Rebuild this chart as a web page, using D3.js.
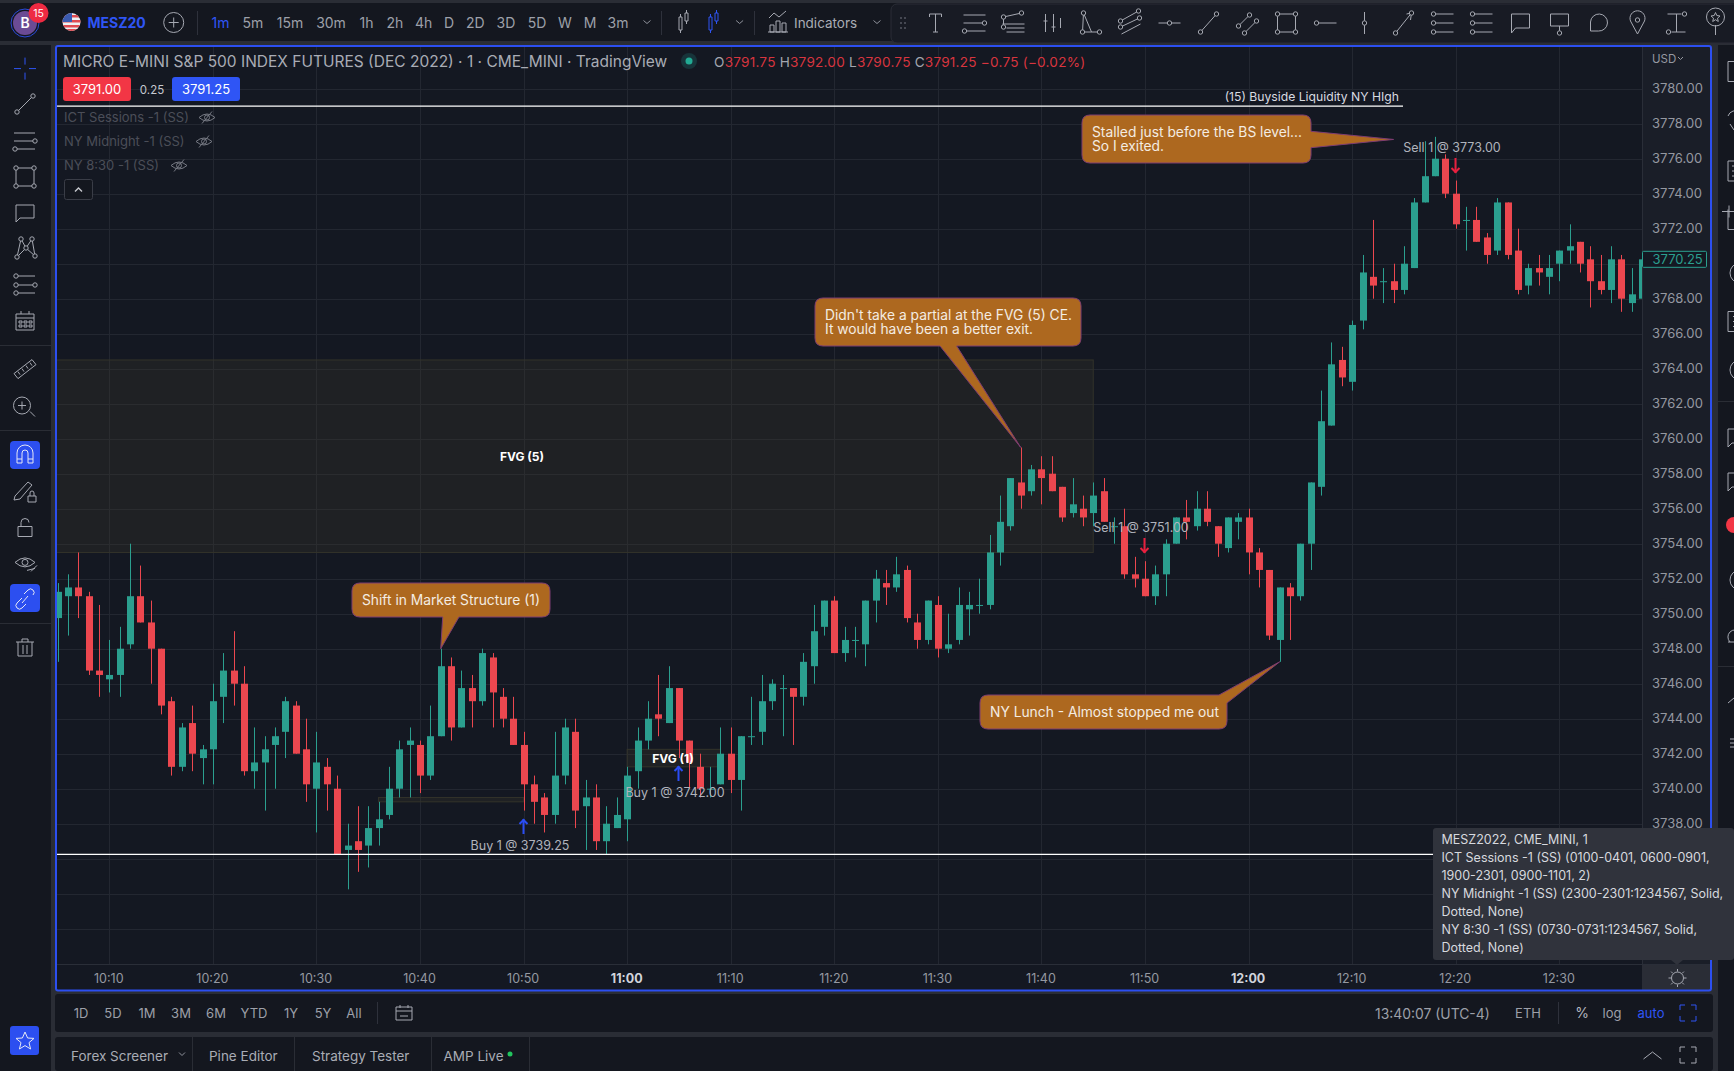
<!DOCTYPE html>
<html>
<head>
<meta charset="utf-8">
<title>MESZ2022 1m</title>
<script src="https://cdn.jsdelivr.net/npm/d3@7/dist/d3.min.js"></script>
<style>
  html, body { margin: 0; padding: 0; background: #2a2d35; overflow: hidden; }
  svg { display: block; font-family: Inter, "Noto Sans", sans-serif; }
  text { white-space: pre; }
</style>
</head>
<body>
<svg id="chart" width="1734" height="1071"></svg>
<script>
// candles start at 10:05, one per minute
var firstBar = "10:05";
var opens = [
  3749.75,3751,3751.5,3751,3746.75,3746.25,3746.5,3748.25,3751,3749.5,
  3748,3745,3741.25,3743.75,3741.75,3742.25,3745.25,3746.75,3746,3741,
  3741.5,3742.5,3743.25,3744.75,3742.25,3740,3741.25,3740,3736.5,3737,
  3736.75,3737.75,3738.5,3740,3742.5,3742.5,3740.75,3743,3747,3743.5,
  3745.75,3745,3747.5,3745.25,3744,3742.5,3740.25,3739.5,3738.5,3740.75,
  3743.25,3739,3739.5,3737,3737.75,3738.25,3741,3742.75,3744.25,3743.75,
  3745.75,3742.75,3741.25,3740,3740.25,3742,3740.5,3743,3743.25,3745,
  3745.75,3745.75,3745.25,3747,3749.25,3750.75,3747.75,3748.5,3748.25,3750.75,
  3751.75,3751.5,3752.5,3749.5,3748.5,3750.5,3748,3748.5,3750.25,3750.5,
  3750.5,3753.5,3755,3757.5,3757,3758.25,3758,3757.25,3755.75,3756,
  3755.75,3757,3755,3755,3752.25,3752,3751,3752.25,3754,3755.5,
  3755,3756,3755,3753.75,3755.25,3755.5,3753.5,3752.5,3748.5,3751.5,
  3751,3754,3757.25,3760.75,3764.5,3763.25,3766.75,3769.25,3769,3769,
  3768.5,3769.75,3773.5,3775,3776,3774,3772.5,3772.5,3771.5,3770.75,
  3773.5,3770.75,3768.75,3769.75,3769.25,3770,3770.75,3771.25,3770.25,3769,
  3768.5,3770.25,3767.75,3768
];
var highs = [
  3751.75,3752.25,3753.5,3751.25,3750.5,3748.5,3749.25,3754,3752.75,3750.75,
  3748,3745.25,3743.75,3744.75,3742.5,3746,3747.75,3749,3747,3743.5,
  3743,3743.5,3745.25,3745,3744,3743.25,3741.75,3740.75,3738,3739,
  3739,3739.25,3741.25,3742.75,3743.5,3742.75,3744.75,3748,3747.5,3746.75,
  3746.5,3748,3747.75,3745.75,3745.25,3743.25,3740.75,3739.75,3743.25,3744,
  3744,3740.5,3740.25,3739,3739.5,3741.25,3743.5,3745,3746.5,3747,
  3745.75,3742.75,3742,3741.25,3743.5,3743.5,3743,3745.25,3746.5,3746.25,
  3746.5,3745.75,3747.75,3750.5,3750.75,3751,3749.25,3749.25,3750.75,3752.5,
  3752.5,3753.25,3752.75,3750,3750.75,3751,3750,3751.5,3751.25,3752,
  3754.5,3756.75,3757.75,3759.5,3758.5,3759,3759,3757.25,3757.75,3756.75,
  3757.5,3757.75,3755.5,3756,3753.25,3753,3752.75,3754.25,3755.5,3756.5,
  3757,3757,3755,3755.5,3755.75,3756,3753.75,3752.5,3751.5,3751.75,
  3754,3757.5,3762.75,3765.5,3765.25,3766.75,3770.5,3772.5,3769.75,3770,
  3771,3773.75,3777,3777.25,3776.25,3774.75,3773.25,3773.25,3771.75,3773.75,
  3773.5,3772,3770,3770.5,3770.5,3770.75,3772.25,3771.25,3771,3770.5,
  3771,3770.5,3769.75,3770.25
];
var lows = [
  3747.25,3748.75,3749.75,3746.5,3745.25,3745.5,3745.25,3748,3749.5,3746,
  3744.25,3740.75,3741,3741,3740.25,3740.25,3743.75,3744.75,3740.75,3740,
  3738.75,3740,3741.75,3742,3739.25,3737.5,3738.75,3736.25,3734.25,3735.25,
  3735.5,3736.75,3738.25,3739.5,3739.5,3739.75,3740.5,3743,3742.75,3743.5,
  3743.5,3744.75,3743.5,3743.5,3742.5,3738.75,3738,3737.5,3738,3740.25,
  3737.75,3736.5,3736.5,3736.25,3737.75,3737,3740,3742.25,3743,3743.75,
  3741.75,3740,3739.5,3739.5,3740.25,3739.75,3738.75,3742.5,3742.5,3744.5,
  3743,3742.5,3744.75,3746,3748.75,3747.75,3747.25,3747.5,3747,3749.5,
  3750.5,3751.25,3749.5,3748,3748.25,3747.5,3747.75,3748.25,3748.75,3750,
  3750.25,3752.75,3754.75,3756,3756.75,3756.25,3757,3755.25,3755.5,3755,
  3755,3755.25,3754,3752,3751.5,3751,3750.5,3751,3754,3754.25,
  3754.75,3755,3753.25,3753.5,3754.25,3752.25,3751.5,3748.5,3747.25,3748.5,
  3750.75,3752.5,3756.75,3760.75,3763,3762.75,3766.25,3768,3767.75,3767.75,
  3768.25,3769.75,3773.5,3775,3773.75,3772,3770.75,3771.25,3770,3770.5,
  3770.25,3768.25,3768.25,3768.75,3768.25,3769,3770,3769.5,3767.5,3768.25,
  3767.75,3767.25,3767.25,3768
];
var closes = [
  3751.25,3751.5,3751,3746.75,3746.5,3746.5,3748,3751,3749.5,3748,
  3744.75,3741.25,3743.5,3742,3742.25,3745,3746.75,3746,3741,3741.5,
  3742.25,3743,3745,3742,3740.25,3741.5,3740.25,3736.25,3736.75,3736.5,
  3737.75,3738.25,3740,3742.25,3742.75,3740.75,3743,3747,3743.5,3745.75,
  3745,3747.75,3745.5,3744,3742.5,3740.25,3739.25,3738.5,3740.75,3743.5,
  3738.75,3739.5,3737,3738,3738.5,3740.75,3742.75,3744,3744,3745.75,
  3742.75,3741.5,3740,3740,3742,3740.5,3743,3743,3745,3746,
  3745.75,3745.25,3747.25,3749,3750.75,3747.75,3748.5,3748.5,3750.75,3752,
  3751.5,3752.25,3749.75,3748.5,3750.75,3748,3748.25,3750.5,3750.5,3750.5,
  3753.5,3755.25,3757.75,3756.75,3758.25,3757.75,3757,3755.5,3756.25,3755.5,
  3756.75,3755.25,3755,3752.25,3752,3751,3752.25,3754,3755.5,3755.25,
  3756,3755.25,3754,3755.5,3755.5,3753.5,3752.5,3748.75,3751.5,3751,
  3754,3757.5,3761,3764.25,3763.5,3766.5,3769.5,3768.75,3769,3768.5,
  3770,3773.5,3775,3776,3774,3772.25,3772.5,3771.25,3770.5,3773.5,
  3770.5,3768.5,3769.75,3769.5,3769.75,3770.75,3771,3770,3769,3768.5,
  3770.25,3768,3768.25,3770.25
];

var priceTicks = d3.range(3732, 3781, 2);
var timeTicks = d3.range(0, 15).map(function(i){ return 610 + i * 10; });
var boldTimes = ["11:00", "12:00"];

var lastPrice = 3770.25;
var buysideLevel = 3779;
var lowLevel = 3736.25;
var fvgBoxes = [
  {from: "10:00", to: "11:45", top: 3764.5, bottom: 3753.5},
  {from: "11:00", to: "11:09", top: 3742.25, bottom: 3741.25},
  {from: "10:36", to: "10:50", top: 3739.5, bottom: 3739.25}
];

var tradeLabels = ["Buy 1 @ 3739.25", "Buy 1 @ 3742.00", "Sell 1 @ 3751.00", "Sell 1 @ 3773.00"];
var tradeTimes = ["10:50", "11:05", "11:50", "12:20"];

var intervals = ["1m","5m","15m","30m","1h","2h","4h","D","2D","3D","5D","W","M","3m"];
var ranges = ["1D","5D","1M","3M","6M","YTD","1Y","5Y","All"];
var tabs = ["Forex Screener","Pine Editor","Strategy Tester","AMP Live"];
var hiddenStudies = ["ICT Sessions -1 (SS)","NY Midnight -1 (SS)","NY 8:30 -1 (SS)"];
var tooltipLines = [
  "MESZ2022, CME_MINI, 1",
  "ICT Sessions -1 (SS) (0100-0401, 0600-0901,",
  "1900-2301, 0900-1101, 2)",
  "NY Midnight -1 (SS) (2300-2301:1234567, Solid,",
  "Dotted, None)",
  "NY 8:30 -1 (SS) (0730-0731:1234567, Solid,",
  "Dotted, None)"
];

var UP = "#2b9f8f", DOWN = "#ec474f", BLUE = "#2c4ff0", PANE = "#141822", BAR = "#14171f";
var GRID = "#232731", AXISTEXT = "#9598a1", ICON = "#a6a9b2", NOTE = "#ad681f";

function hm(s){ var p = s.split(":"); return +p[0] * 60 + +p[1]; }
function fmtTime(m){ return Math.floor(m / 60) + ":" + d3.format("02")(m % 60); }

var candles = opens.map(function(o, i){
  return {t: hm(firstBar) + i, o: o, h: highs[i], l: lows[i], c: closes[i]};
});

var pane = {left: 57, right: 1642, top: 47, bottom: 964};
var x = d3.scaleLinear().domain([hm("10:10"), hm("12:30")]).range([109.3, 1559.3]);
var y = d3.scaleLinear().domain([3778, 3738]).range([123.7, 823.7]);

var svg = d3.select("#chart");

function rect(g, x0, y0, w, h, fill, rx){
  return g.append("rect").attr("x", x0).attr("y", y0).attr("width", w).attr("height", h)
    .attr("fill", fill).attr("rx", rx || 0);
}
function label(g, s, x0, y0, size, fill, anchor, weight){
  return g.append("text").attr("x", x0).attr("y", y0).attr("dy", "0.36em")
    .attr("font-size", size).attr("fill", fill)
    .attr("text-anchor", anchor || "start").attr("font-weight", weight || 400).text(s);
}

/***** panels *****/
var back = svg.append("g");
rect(back, 0, 0, 1734, 1071, "#2a2d35");
rect(back, 0, 3, 1734, 38, BAR);
rect(back, 0, 45, 51, 1026, BAR);
rect(back, 1718, 45, 16, 1026, BAR);
rect(back, 55, 994, 1658, 38, BAR, 3);
rect(back, 55, 1037, 1658, 34, BAR, 3);
[345, 430, 623].forEach(function(v){ rect(back, 0, v, 51, 1, "#2a2d35"); });
rect(back, 1718, 401, 16, 1, "#2a2d35");
rect(back, 1718, 666, 16, 1, "#2a2d35");

/***** chart pane *****/
rect(svg, pane.left, pane.top, pane.right - pane.left, pane.bottom - pane.top, PANE);
rect(svg, pane.right, pane.top, 1710 - pane.right, 990 - pane.top, "#1a1e28");
rect(svg, pane.left, pane.bottom, pane.right - pane.left, 26, PANE);
rect(svg, pane.right, pane.bottom, 1710 - pane.right, 26, "#2a2d36");

var defs = svg.append("defs");
defs.append("clipPath").attr("id", "paneClip").append("rect")
  .attr("x", pane.left).attr("y", pane.top)
  .attr("width", pane.right - pane.left).attr("height", pane.bottom - pane.top);

var plot = svg.append("g").attr("clip-path", "url(#paneClip)");

// grid
plot.append("g").selectAll("line").data(priceTicks).join("line")
  .attr("x1", pane.left).attr("x2", pane.right)
  .attr("y1", function(d){ return Math.round(y(d)) + 0.5; })
  .attr("y2", function(d){ return Math.round(y(d)) + 0.5; })
  .attr("stroke", GRID);
plot.append("g").selectAll("line").data(timeTicks).join("line")
  .attr("y1", pane.top).attr("y2", pane.bottom)
  .attr("x1", function(d){ return Math.round(x(d)) + 0.5; })
  .attr("x2", function(d){ return Math.round(x(d)) + 0.5; })
  .attr("stroke", GRID);

// fvg boxes
plot.append("g").selectAll("rect").data(fvgBoxes).join("rect")
  .attr("x", function(d){ return x(hm(d.from)); })
  .attr("y", function(d){ return y(d.top); })
  .attr("width", function(d){ return x(hm(d.to)) - x(hm(d.from)); })
  .attr("height", function(d){ return y(d.bottom) - y(d.top); })
  .attr("fill", "rgba(62,56,44,0.28)").attr("stroke", "#33332a");

// candles
var bar = plot.append("g").selectAll("g").data(candles).join("g")
  .attr("fill", function(d){ return d.c >= d.o ? UP : DOWN; });
bar.append("rect")
  .attr("x", function(d){ return Math.round(x(d.t)); })
  .attr("width", 1)
  .attr("y", function(d){ return y(d.h); })
  .attr("height", function(d){ return y(d.l) - y(d.h); });
bar.append("rect")
  .attr("x", function(d){ return Math.round(x(d.t)) - 3; })
  .attr("width", 7)
  .attr("y", function(d){ return y(Math.max(d.o, d.c)); })
  .attr("height", function(d){ return Math.max(1, Math.abs(y(d.o) - y(d.c))); });

// horizontal levels
plot.append("line").attr("x1", pane.left).attr("x2", 1403)
  .attr("y1", y(buysideLevel)).attr("y2", y(buysideLevel))
  .attr("stroke", "#fff").attr("stroke-width", 1.2);
plot.append("line").attr("x1", pane.left).attr("x2", pane.right)
  .attr("y1", y(lowLevel)).attr("y2", y(lowLevel))
  .attr("stroke", "#fff").attr("stroke-width", 1.2);
label(plot, "(15) Buyside Liquidity NY HIgh", 1399, 96.5, 12.2, "#d8dae0", "end");

// trades
tradeLabels.forEach(function(s, i){
  var buy = s.indexOf("Buy") === 0;
  var ax = Math.round(x(hm(tradeTimes[i]))) - 0.5;
  var ay = [819, 766, 538, 158][i];
  var col = buy ? "#2a4df5" : "#e8203f";
  var a = plot.append("g").attr("fill", "none").attr("stroke", col).attr("stroke-width", 2);
  a.append("path").attr("d", "M" + ax + " " + ay + "V" + (ay + 15));
  if (buy) a.append("path").attr("d", "M" + (ax - 4) + " " + (ay + 5) + "L" + ax + " " + (ay + 1) + "L" + (ax + 4) + " " + (ay + 5));
  else a.append("path").attr("d", "M" + (ax - 4) + " " + (ay + 10) + "L" + ax + " " + (ay + 14) + "L" + (ax + 4) + " " + (ay + 10));
  var lx = [520, 675, 1141, 1452][i], ly = [845, 792, 527, 147][i];
  label(plot, s, lx, ly, 12.5, "#b0b3bc", "middle");
});

// fvg names
label(plot, "FVG (5)", 522, 456.5, 12, "#fff", "middle", 700);
label(plot, "FVG (1)", 673, 759, 12, "#fff", "middle", 700);

// callouts
function bubble(o){
  var p = d3.path(), r = 8, t = o.tip;
  p.moveTo(o.x0 + r, o.y0);
  if (o.side === "top") { p.lineTo(o.a, o.y0); p.lineTo(t[0], t[1]); }
  if (o.side === "top" && o.skip) { p.lineTo(o.x1, o.c); }
  else {
    if (o.side === "top") p.lineTo(o.c, o.y0);
    p.lineTo(o.x1 - r, o.y0);
    p.quadraticCurveTo(o.x1, o.y0, o.x1, o.y0 + r);
  }
  if (o.side === "right") { p.lineTo(o.x1, o.a); p.lineTo(t[0], t[1]); p.lineTo(o.x1, o.c); }
  p.lineTo(o.x1, o.y1 - r);
  p.quadraticCurveTo(o.x1, o.y1, o.x1 - r, o.y1);
  if (o.side === "bottom") { p.lineTo(o.c, o.y1); p.lineTo(t[0], t[1]); p.lineTo(o.a, o.y1); }
  p.lineTo(o.x0 + r, o.y1);
  p.quadraticCurveTo(o.x0, o.y1, o.x0, o.y1 - r);
  p.lineTo(o.x0, o.y0 + r);
  p.quadraticCurveTo(o.x0, o.y0, o.x0 + r, o.y0);
  plot.append("path").attr("d", p.toString()).attr("fill", NOTE).attr("stroke", "#7d3c72").attr("stroke-width", 1);
  o.lines.forEach(function(s, i){
    label(plot, s, o.x0 + 10, o.ty + i * 14, 13.8, "#f4ece2");
  });
}
bubble({x0: 352, y0: 583, x1: 550, y1: 617, side: "bottom", a: 442.7, c: 459, tip: [x(hm("10:42")), y(3748)],
  ty: 600, lines: ["Shift in Market Structure (1)"]});
bubble({x0: 815, y0: 298, x1: 1081, y1: 346, side: "bottom", a: 940, c: 956.7, tip: [x(hm("11:38")), y(3759.5)],
  ty: 315, lines: ["Didn't take a partial at the FVG (5) CE.", "It would have been a better exit."]});
bubble({x0: 1082, y0: 115, x1: 1311, y1: 163, side: "right", a: 131.3, c: 147.7, tip: [x(hm("12:14")), y(3777.1)],
  ty: 132, lines: ["Stalled just before the BS level...", "So I exited."]});
bubble({x0: 980, y0: 695, x1: 1227, y1: 729, side: "top", a: 1219, c: 703, skip: true, tip: [x(hm("12:03")), y(3747.25)],
  ty: 712, lines: ["NY Lunch - Almost stopped me out"]});

/***** axes *****/
// 3770.00 sits under the last price tag, so it gets no label
var yAxis = d3.axisRight(y).tickValues(priceTicks.filter(function(d){ return d >= 3738 && d !== 3770; }))
  .tickFormat(d3.format(".2f")).tickSize(0).tickPadding(10);
var yG = svg.append("g").attr("transform", "translate(" + pane.right + ",0)").call(yAxis);
yG.select(".domain").attr("stroke", "#2a2e38").attr("d", "M0.5 47V964");
yG.selectAll("text").attr("fill", AXISTEXT).attr("font-size", 13).attr("font-family", "Inter");

var xAxis = d3.axisBottom(x).tickValues(timeTicks).tickFormat(fmtTime).tickSize(0).tickPadding(10);
var xG = svg.append("g").attr("transform", "translate(-1," + pane.bottom + ")").call(xAxis);
xG.select(".domain").attr("stroke", "#2a2e38").attr("d", "M58 0.5H1711");
xG.selectAll("text").attr("fill", function(d){ return boldTimes.indexOf(fmtTime(d)) >= 0 ? "#d1d4dc" : AXISTEXT; })
  .attr("font-size", 12.5).attr("font-family", "Inter")
  .attr("font-weight", function(d){ return boldTimes.indexOf(fmtTime(d)) >= 0 ? 700 : 400; });

// last price tag
var lastY = y(lastPrice);
svg.append("rect").attr("x", 1642.5).attr("y", lastY - 8).attr("width", 64).attr("height", 16)
  .attr("fill", "#141822").attr("stroke", UP).attr("rx", 1);
label(svg, d3.format(".2f")(lastPrice), 1652.5, lastY, 13, UP);

label(svg, "USD", 1652, 59, 11.5, AXISTEXT);
svg.append("path").attr("d", "M1678 57l2.5 2.5l2.5 -2.5").attr("fill", "none").attr("stroke", AXISTEXT);

// frame of the selected pane
rect(svg, 56, 46, 1655, 944.5, "none").attr("stroke", BLUE).attr("stroke-width", 2).attr("rx", 2);

/***** legend *****/
label(svg, "MICRO E-MINI S&P 500 INDEX FUTURES (DEC 2022) · 1 · CME_MINI · TradingView", 63, 61, 15.5, "#a9acb5");
svg.append("circle").attr("cx", 689).attr("cy", 61).attr("r", 8).attr("fill", "#17343a");
svg.append("circle").attr("cx", 689).attr("cy", 61).attr("r", 3.5).attr("fill", "#22ab94");

var oRed = "#d8353f", oGrey = "#a3a6af";
var ohlc = svg.append("text").attr("x", 714).attr("y", 62.5).attr("dy", "0.36em").attr("font-size", 13.6).attr("letter-spacing", 0.22);
[["O", oGrey], ["3791.75 ", oRed], ["H", oGrey], ["3792.00 ", oRed], ["L", oGrey], ["3790.75 ", oRed], ["C", oGrey], ["3791.25 ", oRed], ["−0.75 (−0.02%)", oRed]]
  .forEach(function(p){ ohlc.append("tspan").attr("fill", p[1]).text(p[0]); });

rect(svg, 63, 77, 68, 24, "#f23645", 3);
label(svg, "3791.00", 97, 89, 13, "#fff", "middle");
label(svg, "0.25", 152, 90, 11.5, "#c5c8d0", "middle");
rect(svg, 172, 77, 68, 24, "#2f55f5", 3);
label(svg, "3791.25", 206, 89, 13, "#fff", "middle");

function eyeOff(g, cx, cy){
  var e = g.append("g").attr("transform", "translate(" + cx + "," + cy + ")").attr("fill", "none").attr("stroke", "#777a84");
  e.append("path").attr("d", "M-8 0Q0 -7 8 0Q0 7 -8 0");
  e.append("circle").attr("r", 2.5);
  e.append("path").attr("d", "M-5 6L5 -6");
}
hiddenStudies.forEach(function(s, i){
  label(svg, s, 64, 117.5 + i * 24, 13, "#4b4e58");
  eyeOff(svg, [207, 204, 179][i], 117.5 + i * 24);
});
rect(svg, 64.5, 179.5, 28, 20, BAR, 2).attr("stroke", "#3a3d47");
svg.append("path").attr("d", "M75 191.5l3.5 -3.5l3.5 3.5").attr("fill", "none").attr("stroke", "#c8cad0").attr("stroke-width", 1.4);

/***** tooltip *****/
var tipG = svg.append("g");
rect(tipG, 1433, 828, 301, 132, "#30333c", 3);
tipG.append("path").attr("d", "M1671 960h12l-6 5z").attr("fill", "#30333c");
tooltipLines.forEach(function(s, i){
  label(tipG, s, 1441.5, 839.5 + i * 18, 12.5, "#d7d9df");
});

/***** icons *****/
function icon(g, cx, cy, d, dots, col){
  var c = col || ICON;
  var i = g.append("g").attr("transform", "translate(" + cx + "," + cy + ")")
    .attr("fill", "none").attr("stroke", c).attr("stroke-width", 1);
  if (d) i.append("path").attr("d", d);
  (dots || []).forEach(function(p){
    i.append("circle").attr("cx", p[0]).attr("cy", p[1]).attr("r", 2.2).attr("fill", BAR);
  });
  return i;
}
var gear = svg.append("g");
icon(gear, 1677.5, 978, "M0 -9V-6.5M0 6.5V9M-9 0H-6.5M6.5 0H9M-6.4 -6.4L-4.6 -4.6M4.6 4.6L6.4 6.4M-6.4 6.4L-4.6 4.6M4.6 -4.6L6.4 -6.4", [])
  .append("circle").attr("r", 6);

/***** top bar *****/
var topBar = svg.append("g");
topBar.append("circle").attr("cx", 25).attr("cy", 23).attr("r", 14).attr("fill", "none").attr("stroke", "#2b4bd8");
topBar.append("circle").attr("cx", 25).attr("cy", 23).attr("r", 12).attr("fill", "#6b4b94");
label(topBar, "B", 25, 23, 14, "#fff", "middle", 600);
topBar.append("circle").attr("cx", 38.5).attr("cy", 13).attr("r", 10).attr("fill", "#ee2a42");
label(topBar, "15", 38.5, 13, 10.5, "#fff", "middle");
defs.append("clipPath").attr("id", "flagClip").append("circle").attr("cx", 71.5).attr("cy", 22).attr("r", 9);
var flag = topBar.append("g").attr("clip-path", "url(#flagClip)");
rect(flag, 62, 13, 19, 18, "#eef0f2");
[15, 20, 25, 29].forEach(function(v){ rect(flag, 62, v, 19, 2.5, "#e04a50"); });
rect(flag, 62, 13, 10, 9, "#3b5bb0");
label(topBar, "MESZ20", 87.5, 23, 14, "#2f55f5", "start", 700);
icon(topBar, 173.7, 22.5, "M-5 0H5M0 -5V5").append("circle").attr("r", 10);
rect(topBar, 197, 11, 1, 24, "#2e313b");
var intervalX = [220.5,253,290,331,366.5,395,423.7,449,475.4,506,537,565,590,618];
intervals.forEach(function(s, i){
  label(topBar, s, intervalX[i], 23, 14, i === 0 ? "#2f55f5" : "#9da0a9", "middle");
});
icon(topBar, 647, 22, "M-3.5 -1.5L0 1.5L3.5 -1.5", [], "#8f929b");
rect(topBar, 661, 11, 1, 24, "#2e313b");
icon(topBar, 683, 22, "M-4 -5h3v13h-3zM-2.5 -5v-3M-2.5 8v3M2 -9h3v8h-3zM3.5 -9v-3M3.5 -1v3");
icon(topBar, 713, 22, "M-4 -5h3v13h-3zM-2.5 -5v-3M-2.5 8v3M2 -9h3v8h-3zM3.5 -9v-3M3.5 -1v3", [], "#2f55f5");
icon(topBar, 739.6, 22, "M-3.5 -1.5L0 1.5L3.5 -1.5", [], "#8f929b");
rect(topBar, 754, 11, 1, 24, "#2e313b");
icon(topBar, 778, 22, "M-9 -4L-4 -9L1 -5L8 -11M-8 10V3h4v7h-4M-2 10V-1h4v11h-4M4 10V1h4v9h-4M-10 10H10");
label(topBar, "Indicators", 794, 23, 13.5, "#a9acb5");
icon(topBar, 877, 22, "M-3.5 -1.5L0 1.5L3.5 -1.5", [], "#8f929b");

rect(topBar, 891, 4, 850, 39, "#181b24", 6).attr("stroke", "#2a2d36");
topBar.append("g").selectAll("circle").data([-5, 0, 5]).join("circle").attr("cx", 901).attr("cy", function(d){ return 23 + d; }).attr("r", 1).attr("fill", "#555862");
topBar.append("g").selectAll("circle").data([-5, 0, 5]).join("circle").attr("cx", 905).attr("cy", function(d){ return 23 + d; }).attr("r", 1).attr("fill", "#555862");
var drawIcons = [
  ["M-6 -9H6M0 -9V9M-6 -9V-6M6 -9V-6M-2.5 9H2.5", []],
  ["M-11 -8H11M-11 0H8M-8 8H11", [[10, 0], [-10, 8]]],
  ["M-10 -6L8 -10M-11 1H11M-7 5H11M-7 9H11M-10 -6V4", [[-10, -6], [8, -10], [-10, 4]]],
  ["M-7 -9V9M1 -9V9M8 -5V5M-9 -2H-5M-1 4H3", []],
  ["M-8 -10L0 9M-8 -10L-9 9M-9 9H8", [[-8, -10], [-9, 9], [8, 9]]],
  ["M-10 -2L8 -12M-10 4L9 -5M-9 11L10 1", [[-10, -2], [8, -12], [-10, 4], [9, -5]]],
  ["M-11 0H11", [[0, 0]]],
  ["M-8 9L8 -9", [[-8, 9], [8, -9]]],
  ["M-9 3L2 -8M-3 10L9 -2", [[-9, 3], [2, -8], [-3, 10], [9, -2]]],
  ["M-9 -9H9V9H-9Z", [[-9, -9], [9, -9], [-9, 9], [9, 9]]],
  ["M-9 0H11", [[-9, 0]]],
  ["M0 -11V11", [[0, 0]]],
  ["M-8 10L8 -10M3 -9L8 -10L7 -3", [[-8, 10], [8, -10]]],
  ["M-9 -9H11M-9 0H11M-9 9H11", [[-9, -9], [-9, 0], [-9, 9]]],
  ["M-9 -9H11M-9 0H11M-9 9H11", [[-9, -9], [-9, 0], [-9, 9]]],
  ["M-9 -9H9V5H-5L-9 10Z", []],
  ["M-9 -9H9V3H-9ZM0 3V9", [[0, 10]]],
  ["M-8 8V-1A8.5 8.5 0 1 1 0 8Z", []],
  ["M0 11L-7 -2A7.5 7.5 0 1 1 7 -2Z", [[0, -3]]],
  ["M-9 -9H5M-5 9H9M0 -9V9", [[8, -9], [-8, 9]]],
  ["M0 2V12", []]
];
drawIcons.forEach(function(d, i){
  var ic = icon(topBar, 935.5 + i * 39, 23, d[0], d[1]);
  if (i === 20) ic.append("circle").attr("cy", -6).attr("r", 9);
  if (i === 20) ic.append("path").attr("d", "M0 -10.5L1.3 -7.5L4.5 -7L2 -4.8L2.8 -1.5L0 -3.3L-2.8 -1.5L-2 -4.8L-4.5 -7L-1.3 -7.5Z");
});

/***** left toolbar *****/
var leftBar = svg.append("g");
rect(leftBar, 10, 441, 30, 28, BLUE, 4);
rect(leftBar, 10, 584, 30, 28, BLUE, 4);
rect(leftBar, 10, 1026, 29, 29, BLUE, 3);
var leftIcons = [
  [68.6, "M0 -11V-4M0 4V11M-11 0H-4M4 0H11", [], "#2f55f5"],
  [104, "M-8 8L8 -8", [[-8, 8], [8, -8]]],
  [141, "M-11 -8H10M-11 0H8M-8 8H10", [[10, 0], [-10, 8]]],
  [177, "M-9 -9H9V9H-9Z", [[-9, -9], [9, -9], [-9, 9], [9, 9]]],
  [213, "M-9 -8H9V5H-5L-9 9Z", []],
  [248, "M-8 9L-4 -9L1 0L7 -9L10 8M-8 9L1 0L10 8", [[-8, 9], [-4, -9], [1, 0], [7, -9], [10, 8]]],
  [285, "M-8 -9H10M-8 0H10M-8 8H10", [[-9, -9], [-9, 0], [-9, 8], [10, 0]]],
  [321, "M-9 -7H9V9H-9ZM-9 -3H9M-4 -10V-7M4 -10V-7M-6 0h3v2h-3zM-1 0h3v2h-3zM4 0h3v2h-3zM-6 4h3v2h-3zM-1 4h3v2h-3zM4 4h3v2h-3z", []],
  [368.6, "M-11 5L7 -9L11 -4L-7 10ZM-7 3L-5 6M-3 0L-1 3M1 -3L3 0M5 -6L7 -3", []],
  [405.5, "M-3 -4V4M-7 0H1M5 6L10 11", []],
  [455, "M-8 8V-2A8 8 0 0 1 8 -2V8H3V-2A3 3 0 0 0 -3 -2V8ZM-8 4H-3M3 4H8", [], "#e4e7f5"],
  [490, "M-10 6L3 -8L7 -5L-5 9L-11 10ZM3 6h8v6h-8zM5 6V3A2 2 0 0 1 9 3V6", []],
  [527.5, "M-7 -1H7V9H-7ZM-4 -1V-5A4 4 0 0 1 4 -5", []],
  [562.4, "M-10 0Q0 -9 10 0Q0 9 -10 0M2 8L10 6M6 9L12 3", []],
  [599, "M-8 4L-3 -1M-8 4A3 3 0 0 0 -3 9L1 5M8 -4A3 3 0 0 0 3 -9L-1 -5M-3 4L3 -3", [], "#e4e7f5"],
  [648, "M-7 -6V8H7V-6M-9 -6H9M-3 -6V-9H3V-6M-2 -3V6M2 -3V6", []],
  [1041, "M0 -9L2.6 -3L9 -2.6L4 1.6L5.6 8L0 4.6L-5.6 8L-4 1.6L-9 -2.6L-2.6 -3Z", [], "#e4e7f5"]
];
leftIcons.forEach(function(d){
  var ic = icon(leftBar, 25, d[0], d[1], d[2], d[3]);
  if (d[0] === 405.5) ic.append("circle").attr("cx", -3).attr("r", 8.5);
  if (d[0] === 562.4) ic.append("circle").attr("r", 3);
});

/***** bottom bar *****/
var lowBar = svg.append("g");
var rangeX = [81, 113, 147, 181, 216, 254, 291, 323, 354];
ranges.forEach(function(s, i){ label(lowBar, s, rangeX[i], 1013, 13, "#9da0a9", "middle"); });
rect(lowBar, 377, 1002, 1, 22, "#2e313b");
icon(lowBar, 404, 1013, "M-8 -6H8V7H-8ZM-8 -2H8M-4 -8V-5M4 -8V-5M-4 3H4", [], ICON);
label(lowBar, "13:40:07 (UTC-4)", 1375, 1013.5, 13.9, "#9da0a9");
label(lowBar, "ETH", 1528, 1013.5, 13, "#9da0a9", "middle");
rect(lowBar, 1558, 1002, 1, 22, "#2e313b");
label(lowBar, "%", 1582, 1013, 14, "#b5b8c0", "middle");
label(lowBar, "log", 1612, 1013.5, 13, "#9da0a9", "middle");
label(lowBar, "auto", 1651, 1013.5, 13, "#2f55f5", "middle");
icon(lowBar, 1688, 1013, "M-8 -3V-8H-3M3 -8H8V-3M8 3V8H3M-3 8H-8V3", [], "#2f55f5");

var tabX = [71, 209, 312, 443.5];
tabs.forEach(function(s, i){ label(lowBar, s, tabX[i], 1056, 13.5, "#a9acb5"); });
[192, 294, 431, 529].forEach(function(v){ rect(lowBar, v, 1037, 1, 34, "#2a2d35"); });
icon(lowBar, 182, 1054, "M-3 -1.5L0 1.5L3 -1.5", [], "#8f929b");
lowBar.append("circle").attr("cx", 510).attr("cy", 1054).attr("r", 2.5).attr("fill", "#22c55e");
icon(lowBar, 1652.5, 1055, "M-9 4L0 -3L9 4", [], "#a6a9b2");
icon(lowBar, 1688, 1055, "M-8 -3V-8H-3M3 -8H8V-3M8 3V8H3M-3 8H-8V3", [], "#a6a9b2");

/***** right sidebar, cut by the window edge *****/
var sideBar = svg.append("g");
[[71.5, "M2 -10H14V10H2Z"], [120, "M2 -4A8 8 0 0 1 14 -8M4 4L8 10"], [171, "M2 -10H14V10H2ZM6 -5H14M6 0H14M6 5H14"],
 [219.5, "M2 -10V10H14M-4 -8H10M3 -14V-2"], [273, "M14 -10A10 10 0 0 0 14 10"], [321.5, "M2 -10H14V10H2ZM7 -5H14M7 0H14M7 5H14"],
 [370, "M14 -10A10 10 0 0 0 14 10"], [437, "M2 -8H14V6H6L2 10Z"], [481, "M2 -8H14V6H6L2 10Z"], [580, "M14 -10A10 10 0 0 0 14 10"],
 [636, "M4 6A6 6 0 0 1 14 -4M2 6H14"], [697, "M2 6L14 -4"], [742, "M4 -3H14M4 1H14M4 5H14"]]
  .forEach(function(d){ icon(sideBar, 1726, d[0], d[1]); });
sideBar.append("circle").attr("cx", 1734).attr("cy", 525).attr("r", 8).attr("fill", "#f23645");
</script>
</body>
</html>
